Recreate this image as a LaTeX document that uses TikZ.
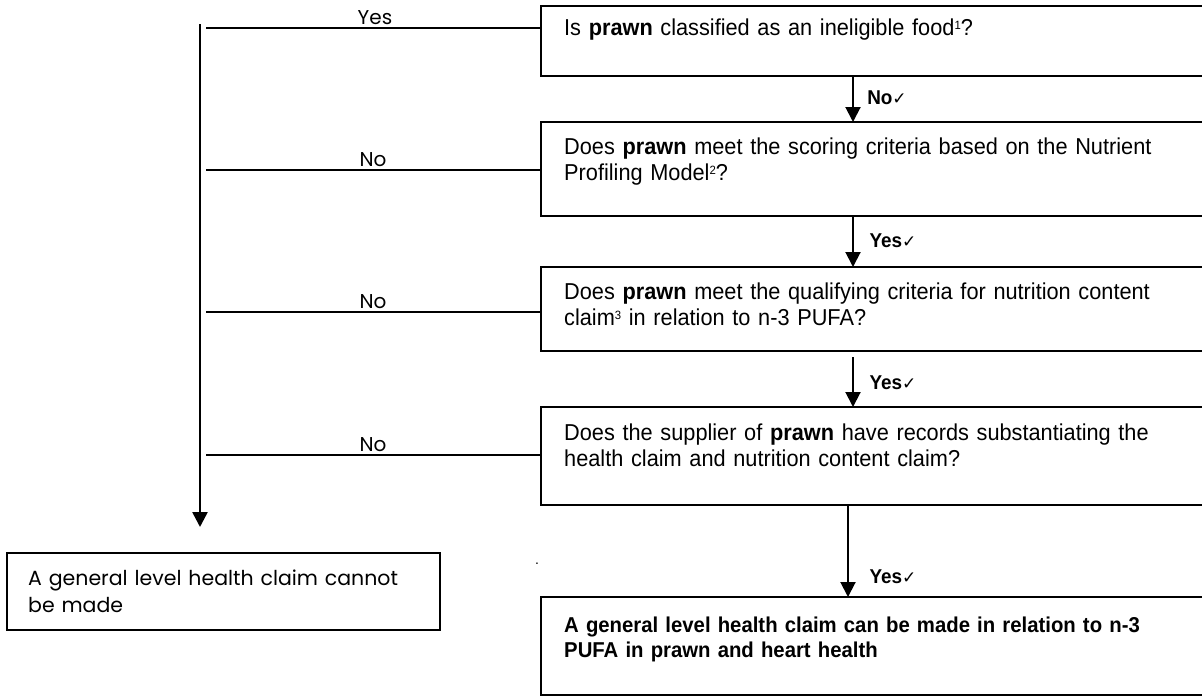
\documentclass[tikz,border=0pt]{standalone}
\usepackage{fontspec}
\setmainfont{Liberation Sans}
\newfontfamily\boxfont[FakeStretch=0.945]{Liberation Sans}
\newfontfamily\roundfont{Poppins}
\newfontfamily\symfont{DejaVu Sans}
\usetikzlibrary{arrows.meta,calc}

\tikzset{
  qbox/.style={draw=black, line width=1.8pt, rectangle, inner sep=0pt, outer sep=0pt, anchor=north west},
  qtext/.style={anchor=base west, inner sep=0pt, text width=640pt, align=left,
                font=\boxfont\fontsize{23}{26}\selectfont},
  endtext/.style={anchor=base west, inner sep=0pt, text width=640pt, align=left,
                font=\boxfont\bfseries\fontsize{21.5}{25}\selectfont},
  lefttext/.style={anchor=base west, inner sep=0pt, text width=420pt, align=left,
                font=\roundfont\fontsize{20.5}{27}\selectfont},
  branch/.style={anchor=base, inner sep=0pt, font=\roundfont\fontsize{20}{22}\selectfont},
  ok/.style={anchor=base, inner sep=0pt, font=\boxfont\bfseries\fontsize{20}{22}\selectfont},
  feed/.style={draw=black, line width=1.5pt},
  spine/.style={draw=black, line width=2.6pt, -{Triangle[width=15pt,length=15pt]}},
  down/.style={draw=black, line width=2pt, -{Triangle[width=15pt,length=15pt]}},
}
% small check mark after the answers
\newcommand{\tick}{{\symfont\fontsize{17}{17}\selectfont\char"2713}}
% footnote marker: small figure, slightly raised
\newcommand{\fnmark}[1]{\raisebox{0.22em}{\fontsize{12}{12}\selectfont #1}}

\begin{document}
\begin{tikzpicture}[x=1pt,y=-1pt]
\useasboundingbox (0,0) rectangle (1202,696);
\clip (0,0) rectangle (1202,696);

% question boxes (running off to the right)
\node[qbox, minimum width=680pt, minimum height=70pt] (q1) at (541,6) {};
\node[qbox, minimum width=680pt, minimum height=94pt] (q2) at (541,122) {};
\node[qbox, minimum width=680pt, minimum height=84pt] (q3) at (541,267) {};
\node[qbox, minimum width=680pt, minimum height=98pt] (q4) at (541,407) {};
\node[qbox, minimum width=680pt, minimum height=98pt] (q5) at (541,597) {};
\node[qbox, minimum width=433pt, minimum height=77pt] (no) at (7,553) {};

% box texts
\node[qtext] (t1) at (564,35) {Is \textbf{prawn} classified as an ineligible food\fnmark{1}?};
\node[qtext] (t2) at (564,154) {Does \textbf{prawn} meet the scoring criteria based on the Nutrient\\Profiling Model\fnmark{2}?};
\node[qtext] (t3) at (564,299) {Does \textbf{prawn} meet the qualifying criteria for nutrition content\\claim\fnmark{3} in relation to n-3 PUFA?};
\node[qtext] (t4) at (564,440) {Does the supplier of \textbf{prawn} have records substantiating the\\health claim and nutrition content claim?};
\node[endtext] (t5) at (564,632) {A general level health claim can be made in relation to n-3\\PUFA in prawn and heart health};
\node[lefttext] (tn) at (28,585) {A general level health claim cannot\\be made};
\node[inner sep=0pt, font=\fontsize{14}{14}\selectfont] (dot) at (537,564) {.};

% rejection spine
\coordinate (sTop) at (200,24);
\coordinate (sEnd) at (200,527);
\draw[spine] (sTop) -- (sEnd);

% branches into the spine
\coordinate (b1) at (206,28);
\coordinate (b2) at (206,170);
\coordinate (b3) at (206,312);
\coordinate (b4) at (206,455);
\draw[feed] (b1) -- (b1 -| q1.west);
\draw[feed] (b2) -- (b2 -| q2.west);
\draw[feed] (b3) -- (b3 -| q3.west);
\draw[feed] (b4) -- (b4 -| q4.west);
\node[branch] (y0) at (375,24) {Yes};
\node[branch] (n1) at (373,166) {No};
\node[branch] (n2) at (373,308) {No};
\node[branch] (n3) at (373,451) {No};

% main path downwards
\draw[down] ($(q1.south west)+(312,0)$) -- ($(q2.north west)+(312,0)$);
\draw[down] ($(q2.south west)+(312,0)$) -- ($(q3.north west)+(312,0)$);
\draw[down] ($(q3.south west)+(312,6)$) -- ($(q4.north west)+(312,0)$);
\draw[down] ($(q4.south west)+(307,0)$) -- ($(q5.north west)+(307,0)$);
\node[ok] (a1) at (887,104) {No\tick};
\node[ok] (a2) at (893,247) {Yes\tick};
\node[ok] (a3) at (893,389) {Yes\tick};
\node[ok] (a4) at (893,583) {Yes\tick};
\end{tikzpicture}
\end{document}
